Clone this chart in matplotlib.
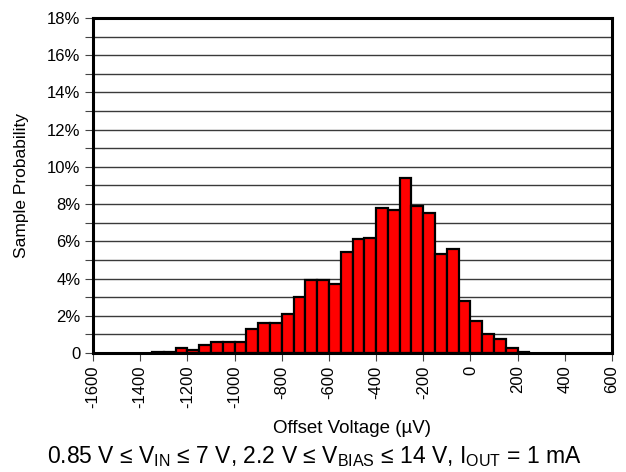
import numpy as np
import matplotlib
matplotlib.use('Agg')
import matplotlib.pyplot as plt
from matplotlib.ticker import MultipleLocator

plt.rcParams['font.family'] = ['Liberation Sans', 'DejaVu Sans']
plt.rcParams['mathtext.fontset'] = 'custom'
plt.rcParams['mathtext.rm'] = 'Liberation Sans'

# Histogram bins (left edges, uV) and sample probability (%)
bin_left = [-1350, -1300, -1250, -1200, -1150, -1100, -1050, -1000,
            -950, -900, -850, -800, -750, -700, -650, -600,
            -550, -500, -450, -400, -350, -300, -250, -200,
            -150, -100, -50, 0, 50, 100, 150, 200]
probability = [0.08, 0.08, 0.25, 0.15, 0.45, 0.6, 0.6, 0.6,
               1.3, 1.6, 1.6, 2.1, 3.0, 3.9, 3.9, 3.7,
               5.45, 6.1, 6.2, 7.8, 7.7, 9.4, 7.9, 7.5,
               5.3, 5.6, 2.8, 1.7, 1.0, 0.75, 0.25, 0.05]
bin_width = 50

x_ticks = list(range(-1600, 601, 200))
y_ticks = list(range(0, 19, 2))
y_labels = ['0'] + [f'{v}%' for v in y_ticks[1:]]

fig = plt.figure(figsize=(6.26, 4.72), dpi=100)
ax = fig.add_axes([0.1486, 0.2521, 0.829, 0.7098])

ax.bar(bin_left, probability, width=bin_width, align='edge',
       color='#ff0000', edgecolor='black', linewidth=1.6, zorder=3)

ax.set_xlim(-1600, 600)
ax.set_ylim(0, 18)
ax.set_xticks(x_ticks)
ax.set_xticklabels([str(v) for v in x_ticks], rotation=90, fontsize=12)
ax.set_yticks(y_ticks)
ax.set_yticklabels(y_labels, fontsize=12)
ax.yaxis.set_minor_locator(MultipleLocator(1))
ax.grid(axis='y', which='both', color='#3a3a3a', linewidth=1.0, zorder=0)
ax.tick_params(axis='both', which='both', direction='out', length=6,
               width=0.8, color='#444444', pad=3)

for side in ax.spines.values():
    side.set_linewidth(2.2)
    side.set_zorder(4)

ax.set_xlabel('Offset Voltage (µV)', fontsize=13.5)
ax.set_ylabel('Sample Probability', fontsize=12.5)
ax.xaxis.set_label_coords(0.499, -0.200)
ax.yaxis.set_label_coords(-0.123, 0.5)

fig.text(0.502, 0.032,
         r'0.85 V ≤ V$_\mathregular{IN}$ ≤ 7 V, 2.2 V ≤ V$_\mathregular{BIAS}$ ≤ 14 V, '
         r'I$_\mathregular{OUT}$ = 1 mA',
         ha='center', va='center', fontsize=16.5)

fig.savefig('out.png', dpi=100)
